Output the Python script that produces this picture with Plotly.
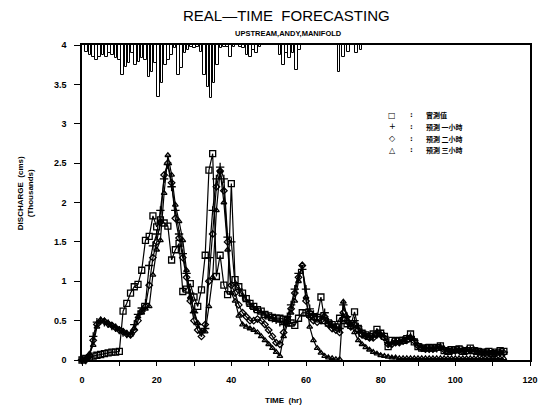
import plotly.graph_objects as go

# ---------------- data ----------------
hours = list(range(0, 114))

observed = [0.00, 0.02, 0.03, 0.05, 0.06, 0.07, 0.08, 0.09, 0.10, 0.10,
            0.11, 0.62, 0.72, 0.85, 0.93, 0.96, 1.14, 1.52, 1.57, 1.83,
            1.69, 1.78, 1.74, 1.70, 1.27, 1.40, 1.48, 0.87, 0.90, 0.97,
            0.80, 0.68, 0.89, 1.33, 2.41, 2.62, 1.06, 1.33, 0.95, 0.83,
            2.24, 1.02, 0.93, 0.85, 0.78, 0.72, 0.68, 0.64, 0.62, 0.58,
            0.56, 0.54, 0.53, 0.53, 0.52, 0.50, 0.47, 0.44, 0.53, 0.60,
            0.60, 0.58, 0.55, 0.54, 0.80, 0.50, 0.47, 0.45, 0.42, 0.53,
            0.50, 0.46, 0.44, 0.61, 0.40, 0.34, 0.32, 0.30, 0.33, 0.39,
            0.34, 0.30, 0.17, 0.25, 0.24, 0.25, 0.25, 0.27, 0.33, 0.23,
            0.17, 0.15, 0.15, 0.16, 0.15, 0.16, 0.18, 0.12, 0.11, 0.13,
            0.13, 0.14, 0.11, 0.12, 0.15, 0.12, 0.11, 0.10, 0.09, 0.11,
            0.08, 0.10, 0.12, 0.11]

forecast_1h = [0.00, 0.00, 0.04, 0.30, 0.48, 0.50, 0.48, 0.46, 0.43, 0.41,
               0.38, 0.35, 0.33, 0.33, 0.45, 0.58, 0.66, 0.72, 1.20, 1.45,
               1.60, 1.90, 2.30, 2.48, 2.20, 1.90, 1.60, 1.35, 1.10, 0.85,
               0.60, 0.45, 0.35, 0.40, 1.30, 1.90, 2.30, 2.45, 2.30, 1.56,
               1.50, 0.95, 0.90, 0.82, 0.76, 0.70, 0.66, 0.63, 0.60, 0.57,
               0.55, 0.53, 0.51, 0.48, 0.45, 0.55, 0.70, 0.90, 1.10, 1.15,
               0.90, 0.65, 0.58, 0.55, 0.55, 0.60, 0.48, 0.45, 0.42, 0.40,
               0.70, 0.55, 0.45, 0.50, 0.42, 0.35, 0.32, 0.30, 0.30, 0.35,
               0.33, 0.30, 0.22, 0.22, 0.24, 0.24, 0.25, 0.27, 0.30, 0.25,
               0.18, 0.16, 0.15, 0.15, 0.15, 0.15, 0.17, 0.13, 0.12, 0.12,
               0.12, 0.13, 0.12, 0.12, 0.13, 0.12, 0.11, 0.10, 0.10, 0.10,
               0.09, 0.09, 0.10, 0.10]

forecast_2h = [0.00, 0.00, 0.05, 0.25, 0.45, 0.50, 0.49, 0.46, 0.44, 0.41,
               0.38, 0.36, 0.33, 0.32, 0.38, 0.50, 0.62, 0.68, 0.95, 1.30,
               1.50, 1.75, 2.35, 2.50, 2.25, 1.80, 1.55, 1.30, 1.05, 0.75,
               0.50, 0.38, 0.30, 0.45, 1.00, 1.60, 2.20, 2.40, 2.15, 1.50,
               0.95, 0.85, 0.70, 0.60, 0.55, 0.50, 0.50, 0.52, 0.50, 0.45,
               0.38, 0.30, 0.22, 0.20, 0.35, 0.50, 0.65, 0.85, 1.05, 1.20,
               0.75, 0.55, 0.50, 0.48, 0.50, 0.55, 0.45, 0.40, 0.38, 0.35,
               0.60, 0.50, 0.42, 0.45, 0.38, 0.32, 0.30, 0.28, 0.28, 0.32,
               0.32, 0.28, 0.20, 0.20, 0.22, 0.22, 0.24, 0.25, 0.28, 0.24,
               0.18, 0.15, 0.14, 0.14, 0.14, 0.15, 0.16, 0.13, 0.11, 0.11,
               0.12, 0.12, 0.11, 0.11, 0.12, 0.11, 0.10, 0.10, 0.09, 0.09,
               0.08, 0.09, 0.09, 0.09]

forecast_3h = [0.00, 0.02, 0.08, 0.19, 0.42, 0.51, 0.50, 0.47, 0.44, 0.41,
               0.39, 0.36, 0.34, 0.32, 0.40, 0.55, 0.60, 0.65, 0.68, 1.08,
               1.40, 1.52, 2.12, 2.60, 2.35, 1.97, 1.76, 1.52, 1.14, 0.80,
               0.63, 0.47, 0.36, 0.36, 0.68, 1.05, 1.90, 2.40, 2.00, 1.40,
               0.85, 0.75, 0.56, 0.45, 0.42, 0.40, 0.38, 0.35, 0.30, 0.25,
               0.20, 0.15, 0.10, 0.05, 0.30, 0.45, 0.60, 0.75, 1.00, 1.21,
               0.80, 0.42, 0.25, 0.15, 0.09, 0.05, 0.03, 0.02, 0.01, 0.01,
               0.74, 0.55, 0.45, 0.35, 0.25, 0.20, 0.16, 0.13, 0.10, 0.08,
               0.06, 0.05, 0.04, 0.03, 0.03, 0.02, 0.02, 0.02, 0.02, 0.02,
               0.02, 0.02, 0.02, 0.02, 0.02, 0.02, 0.02, 0.02, 0.02, 0.02,
               0.02, 0.02, 0.02, 0.02, 0.02, 0.02, 0.02, 0.02, 0.02, 0.02,
               0.02, 0.02, 0.02, 0.02]

rain_hr = [1.2, 2.1, 3.0, 3.9, 4.7, 5.6, 6.5, 7.4, 8.2, 9.1,
           10.0, 10.9, 11.8, 12.6, 13.5, 14.4, 15.3, 16.1, 17.0, 17.9,
           18.8, 19.7, 20.5, 21.4, 22.3, 23.2, 24.0, 24.9, 25.8, 26.7,
           27.6, 28.4, 29.3, 30.2, 31.0, 31.9, 32.8, 33.7, 34.6, 35.4,
           36.3, 37.2, 38.1, 39.0, 39.8, 40.7, 42.5, 43.3, 44.2, 45.1,
           46.0, 46.8, 47.7, 53.0, 53.9, 54.7, 55.6, 56.5, 57.4, 58.2,
           68.8, 70.1, 71.4, 73.6, 74.7]
rain_mm = [2.7, 4.0, 4.7, 6.0, 4.7, 4.0, 4.7, 3.3, 4.0, 5.3,
           6.0, 12.0, 8.7, 7.3, 3.3, 8.0, 6.7, 5.3, 6.0, 12.7,
           10.7, 7.3, 20.7, 15.2, 8.0, 6.0, 4.0, 1.3, 12.0, 9.2,
           3.3, 2.0, 0.7, 1.3, 0.7, 2.7, 12.0, 16.7, 21.2, 15.2,
           8.0, 1.3, 0.7, 0.7, 4.7, 0.7, 0.7, 1.3, 4.0, 4.7,
           2.0, 3.3, 0.7, 4.0, 8.0, 3.3, 5.3, 3.3, 10.0, 2.0,
           10.7, 4.7, 2.7, 3.3, 2.0]

legend_symbols = ["□", "+", "◇", "△"]
legend_labels = ["實測值", "預測 一小時", "預測 二小時", "預測 三小時"]

x_ticks = [0, 10, 20, 30, 40, 50, 60, 70, 80, 90, 100, 110, 120]
x_ticktext = ["0", "", "20", "", "40", "", "60", "", "80", "", "100", "", "120"]
y_ticks = [0, 0.5, 1, 1.5, 2, 2.5, 3, 3.5, 4]
y_ticktext = ["0", "0.5", "1", "1.5", "2", "2.5", "3", "3.5", "4"]

# ---------------- figure ----------------
BOLD = dict(family="Liberation Sans, Arial, sans-serif", size=9, color="black", weight="bold")
fig = go.Figure()

fig.add_trace(go.Bar(x=rain_hr, y=rain_mm, yaxis="y2", width=0.7,
                     marker=dict(color="white", line=dict(color="black", width=1)),
                     showlegend=False, hoverinfo="skip"))

series = [
    (forecast_3h, "triangle-up-open", 5),
    (forecast_2h, "diamond-open", 5),
    (forecast_1h, "cross-thin-open", 6),
    (observed, "square-open", 6),
]
for vals, sym, sz in series:
    fig.add_trace(go.Scatter(
        x=hours, y=vals, mode="lines+markers", cliponaxis=False,
        line=dict(color="black", width=1.2),
        marker=dict(symbol=sym, size=sz, color="black", line=dict(color="black", width=1.3)),
        showlegend=False))

fig.update_layout(
    width=548, height=407,
    margin=dict(l=82, r=10, t=45, b=47),
    paper_bgcolor="white", plot_bgcolor="white",
    showlegend=False,
    xaxis=dict(range=[0, 120], tickvals=x_ticks, ticktext=x_ticktext,
               showgrid=False, zeroline=False, showline=True, linecolor="black",
               linewidth=1.5, mirror=True, ticks="outside", ticklen=4,
               tickwidth=1.2, tickcolor="black", tickfont=BOLD,
               ticklabelstandoff=6),
    yaxis=dict(range=[0, 4], tickvals=y_ticks, ticktext=y_ticktext,
               showgrid=False, zeroline=False, showline=True, linecolor="black",
               linewidth=1.5, mirror=True, ticks="outside", ticklen=6,
               tickwidth=1.2, tickcolor="black", tickfont=BOLD,
               ticklabelstandoff=6),
    yaxis2=dict(range=[126, 0], overlaying="y", side="right", visible=False,
                showgrid=False, zeroline=False),
    bargap=0,
)

annotations = [
    dict(text="REAL—TIME  FORECASTING", x=0.456, y=1.095, xref="paper", yref="paper",
         showarrow=False, xanchor="center", yanchor="middle",
         font=dict(family="Liberation Sans, Arial, sans-serif", size=15, color="black")),
    dict(text="UPSTREAM,ANDY,MANIFOLD", x=0.46, y=1.035, xref="paper", yref="paper",
         showarrow=False, xanchor="center", yanchor="middle",
         font=dict(family="Liberation Sans Narrow, Liberation Sans, sans-serif", size=7.5,
                   color="black", weight="bold")),
    dict(text="TIME  (hr)", x=0.45, y=-0.127, xref="paper", yref="paper",
         showarrow=False, xanchor="center", yanchor="middle",
         font=dict(family="Liberation Sans, Arial, sans-serif", size=8, color="black", weight="bold")),
    dict(text="DISCHARGE  (cms)<br>(Thousands)", x=-0.127, y=0.53, xref="paper", yref="paper",
         showarrow=False, xanchor="center", yanchor="middle", textangle=-90,
         font=dict(family="Liberation Sans, Arial, sans-serif", size=8, color="black", weight="bold")),
]
row_y = [0.777, 0.740, 0.703, 0.666]
for sym, lab, yy in zip(legend_symbols, legend_labels, row_y):
    annotations.append(dict(text=sym, x=0.693, y=yy, xref="paper", yref="paper", showarrow=False,
                            xanchor="center", yanchor="middle",
                            font=dict(family="DejaVu Sans", size=8, color="black")))
    annotations.append(dict(text=":", x=0.735, y=yy, xref="paper", yref="paper", showarrow=False,
                            xanchor="center", yanchor="middle",
                            font=dict(family="DejaVu Sans", size=7, color="black", weight="bold")))
    annotations.append(dict(text=lab, x=0.763, y=yy, xref="paper", yref="paper", showarrow=False,
                            xanchor="left", yanchor="middle",
                            font=dict(family="Noto Sans CJK TC", size=7, color="black", weight="bold")))
fig.update_layout(annotations=annotations)

fig.write_html("out.html")
